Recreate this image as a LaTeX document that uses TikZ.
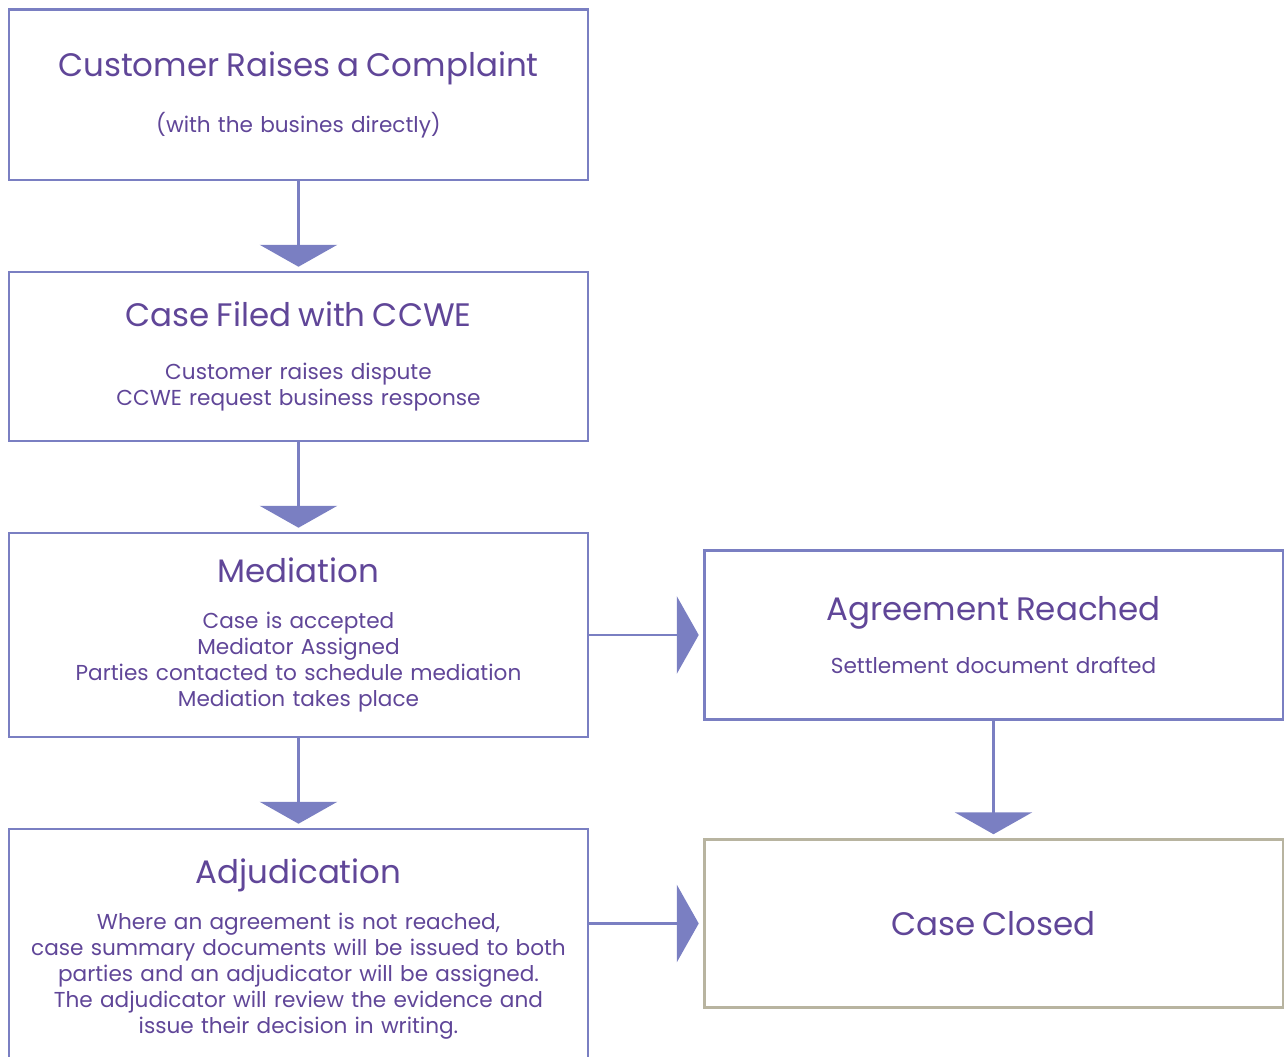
\documentclass[tikz,border=0pt]{standalone}
\usepackage{fontspec}
\setmainfont{Poppins}
\usetikzlibrary{
  arrows.meta,
  positioning,
}
\definecolor{flowblue}{RGB}{122,127,194}
\definecolor{flowtext}{RGB}{96,70,152}
\definecolor{flowkhaki}{RGB}{184,180,160}
\newcommand{\stagetitle}[1]{{\fontsize{18.5}{22}\selectfont #1}}
\tikzstyle{stage} = [
  draw=flowblue,
  line width=1.7pt,
  rectangle,
  outer sep=0pt,
  minimum width=11.58cm,
  text width=11cm,
  align=center,
  text=flowtext,
  font=\fontsize{12.3}{14.8}\selectfont,
]
\tikzstyle{arrow} = [
  -{Triangle[width=44pt,length=12.5pt]},
  line width=1.7pt,
  flowblue,
  shorten >=3pt,
]
\begin{document}
\begin{tikzpicture}[node distance=1.84cm and 2.32cm]
      \useasboundingbox (0,0) rectangle (25.68,-21.14);
      \node[stage,minimum height=3.4cm]    (complaint)  at (5.97,-1.9)  {\stagetitle{Customer Raises a Complaint}\\[15pt](with the busines directly)};
      \node[stage,minimum height=3.38cm]    (filed)  [below=of complaint]  {\stagetitle{Case Filed with CCWE}\\[15pt]Customer raises dispute\\CCWE request business response};
      \node[stage,minimum height=4.08cm]    (mediation)  [below=of filed]  {\stagetitle{Mediation}\\[11pt]Case is accepted\\Mediator Assigned\\Parties contacted to schedule mediation\\Mediation takes place};
      \node[stage,minimum height=4.8cm]    (adjudication)  [below=of mediation]  {\stagetitle{Adjudication}\\[11pt]Where an agreement is not reached,\\case summary documents will be issued to both\\parties and an adjudicator will be assigned.\\The adjudicator will review the evidence and\\issue their decision in writing.};
      \node[stage,minimum height=3.38cm]    (agreement)  [right=of mediation]  {\stagetitle{Agreement Reached}\\[15pt]Settlement document drafted};
      \node[stage,minimum height=3.36cm,draw=flowkhaki]    (closed)  [below=2.4cm of agreement]  {\stagetitle{Case Closed}};

      \draw[arrow] (complaint) -- (filed);
      \draw[arrow] (filed) -- (mediation);
      \draw[arrow] (mediation) -- (adjudication);
      \draw[arrow] (mediation) -- (agreement);
      \draw[arrow] (agreement) -- (closed);
      \draw[arrow] (adjudication.east |- closed.west) -- (closed.west);
    \end{tikzpicture}
\end{document}
